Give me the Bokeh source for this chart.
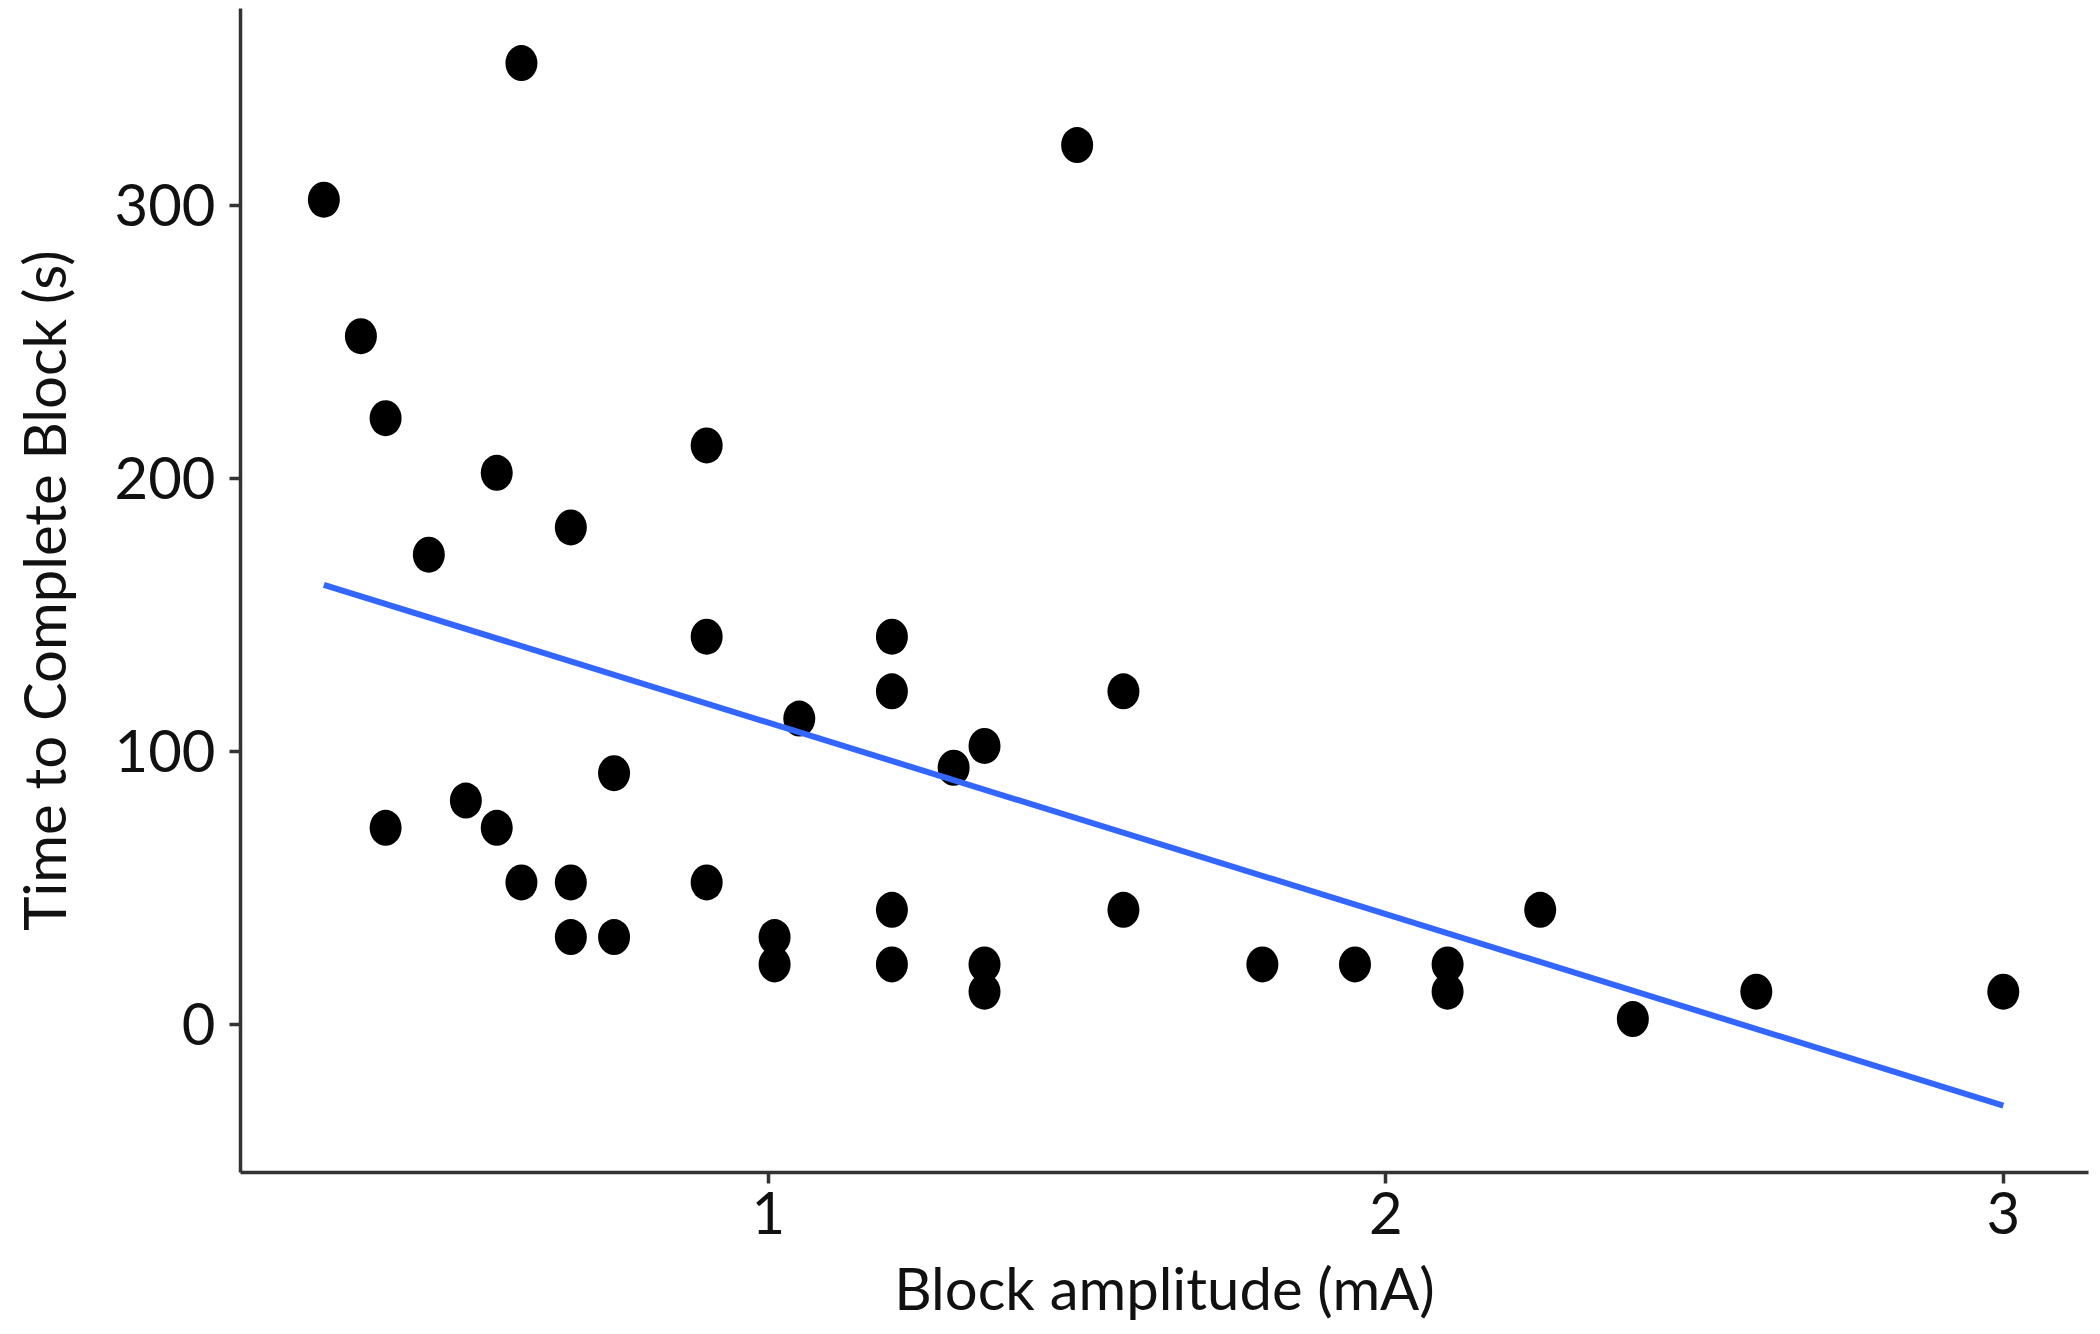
import numpy as np
from bokeh.plotting import figure
from bokeh.models import FixedTicker, Range1d, ColumnDataSource
from bokeh.embed import file_html
from bokeh.resources import INLINE

# Data
block_amplitude = [0.28, 0.6, 0.34, 0.38, 0.56, 0.68, 0.45, 0.9, 0.9, 1.2,
                   1.2, 1.5, 1.575, 1.05, 1.35, 1.3, 0.75, 0.38, 0.51, 0.56,
                   0.6, 0.68, 0.68, 0.75, 0.9, 1.01, 1.01, 1.2, 1.2, 1.35,
                   1.35, 1.575, 1.8, 1.95, 2.1, 2.1, 2.25, 2.4, 2.6, 3.0]
time_to_block = [302, 352, 252, 222, 202, 182, 172, 212, 142, 142,
                 122, 322, 122, 112, 102, 94, 92, 72, 82, 72,
                 52, 52, 32, 32, 52, 32, 22, 42, 22, 22,
                 12, 42, 22, 22, 22, 12, 42, 2, 12, 12]
x_ticks = [1, 2, 3]
y_ticks = [0, 100, 200, 300]

# Linear fit (as geom_smooth(method="lm"))
slope, intercept = np.polyfit(block_amplitude, time_to_block, 1)
fit_x = [min(block_amplitude), max(block_amplitude)]
fit_y = [slope * v + intercept for v in fit_x]

FONT = "Lato"

p = figure(width=2100, height=1334, output_backend="svg", toolbar_location=None,
           x_range=Range1d(0.145, 3.138), y_range=Range1d(-54.2, 372),
           min_border_left=240, min_border_right=12, min_border_top=8,
           min_border_bottom=162)
p.outline_line_color = None
p.xgrid.grid_line_color = None
p.ygrid.grid_line_color = None
p.background_fill_color = "white"
p.border_fill_color = "white"

src = ColumnDataSource(dict(x=block_amplitude, y=time_to_block))
p.ellipse(x="x", y="y", width=32, height=36, width_units="screen",
          height_units="screen", source=src, fill_color="black", line_color=None)
p.line(fit_x, fit_y, line_color="#3366FF", line_width=6)

for ax in (p.xaxis[0], p.yaxis[0]):
    ax.axis_line_color = "#333333"
    ax.axis_line_width = 3.5
    ax.major_tick_line_color = "#333333"
    ax.major_tick_line_width = 3.5
    ax.major_tick_out = 11
    ax.major_tick_in = 0
    ax.minor_tick_line_color = None
    ax.major_label_text_font = FONT
    ax.major_label_text_font_size = "58px"
    ax.major_label_text_color = "#111111"
    ax.axis_label_text_font = FONT
    ax.axis_label_text_font_size = "58px"
    ax.axis_label_text_font_style = "normal"
    ax.axis_label_text_color = "#111111"

p.xaxis.ticker = FixedTicker(ticks=x_ticks)
p.yaxis.ticker = FixedTicker(ticks=y_ticks)
p.xaxis.axis_label = "Block amplitude (mA)"
p.yaxis.axis_label = "Time to Complete Block (s)"
p.xaxis.major_label_standoff = 8
p.yaxis.major_label_standoff = 14
p.xaxis.axis_label_standoff = 16
p.yaxis.axis_label_standoff = 34

open("out.html", "w").write(file_html(p, INLINE))
